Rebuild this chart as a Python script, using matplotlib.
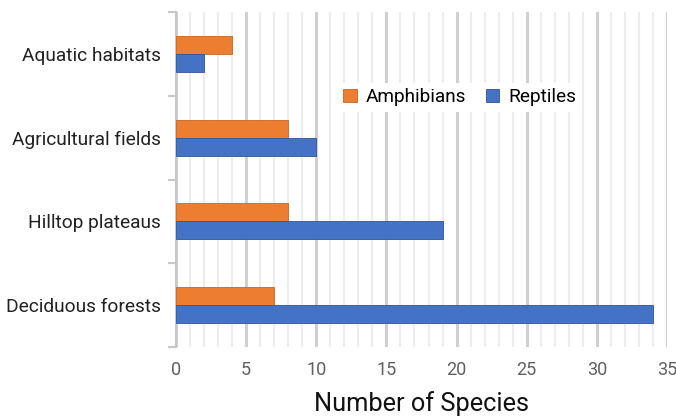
import numpy as np
import matplotlib.pyplot as plt
from matplotlib.ticker import MultipleLocator, FixedLocator

habitats = ['Deciduous forests', 'Hilltop plateaus', 'Agricultural fields', 'Aquatic habitats']
amphibians = [7, 8, 8, 4]
reptiles = [34, 19, 10, 2]

plt.rcParams['font.family'] = ['Roboto', 'DejaVu Sans']

fig = plt.figure(figsize=(6.76, 4.18), dpi=100)
ax = fig.add_axes([176/676, 1 - 347/418, (667-176)/676, (347-12)/418])

y = np.arange(len(habitats))
h = 0.215
ax.barh(y + h/2, amphibians, height=h, color='#ED7D31', edgecolor='#C9651F',
        linewidth=0.6, label='Amphibians', zorder=3)
ax.barh(y - h/2, reptiles, height=h, color='#4472C4', edgecolor='#2F5597',
        linewidth=0.6, label='Reptiles', zorder=3)

ax.set_xlim(0, 35)
ax.set_ylim(-0.5, 3.5)
ax.xaxis.set_major_locator(MultipleLocator(5))
ax.xaxis.set_minor_locator(MultipleLocator(1))
ax.grid(axis='x', which='major', color='#D0D0D0', linewidth=2.2, zorder=0)
ax.grid(axis='x', which='minor', color='#EDEDED', linewidth=1.6, zorder=0)

ax.set_yticks(y)
ax.set_yticklabels(habitats, fontsize=13.8, color='#222222')
ax.yaxis.set_minor_locator(FixedLocator([-0.5, 0.5, 1.5, 2.5, 3.5]))
ax.tick_params(axis='y', which='major', length=0, pad=11)
ax.tick_params(axis='y', which='minor', length=6, width=1.5, color='#C8C8C8')
ax.tick_params(axis='x', which='both', length=0, labelsize=13,
               labelcolor='#606060', pad=10)

for s in ['top', 'right', 'bottom']:
    ax.spines[s].set_visible(False)
ax.spines['left'].set_color('#C8C8C8')
ax.spines['left'].set_linewidth(1.5)

ax.set_xlabel('Number of Species', fontsize=18.3, color='#111111', labelpad=9)

leg = ax.legend(loc='center', bbox_to_anchor=(0.578, 0.745), ncol=2, frameon=True,
                fontsize=13.7, handlelength=0.7, handleheight=0.7,
                columnspacing=1.0, handletextpad=0.5, borderpad=0.3)
leg.get_frame().set_edgecolor('none')
leg.get_frame().set_facecolor('white')
leg.get_frame().set_alpha(1)

fig.savefig('out.png', dpi=100)
